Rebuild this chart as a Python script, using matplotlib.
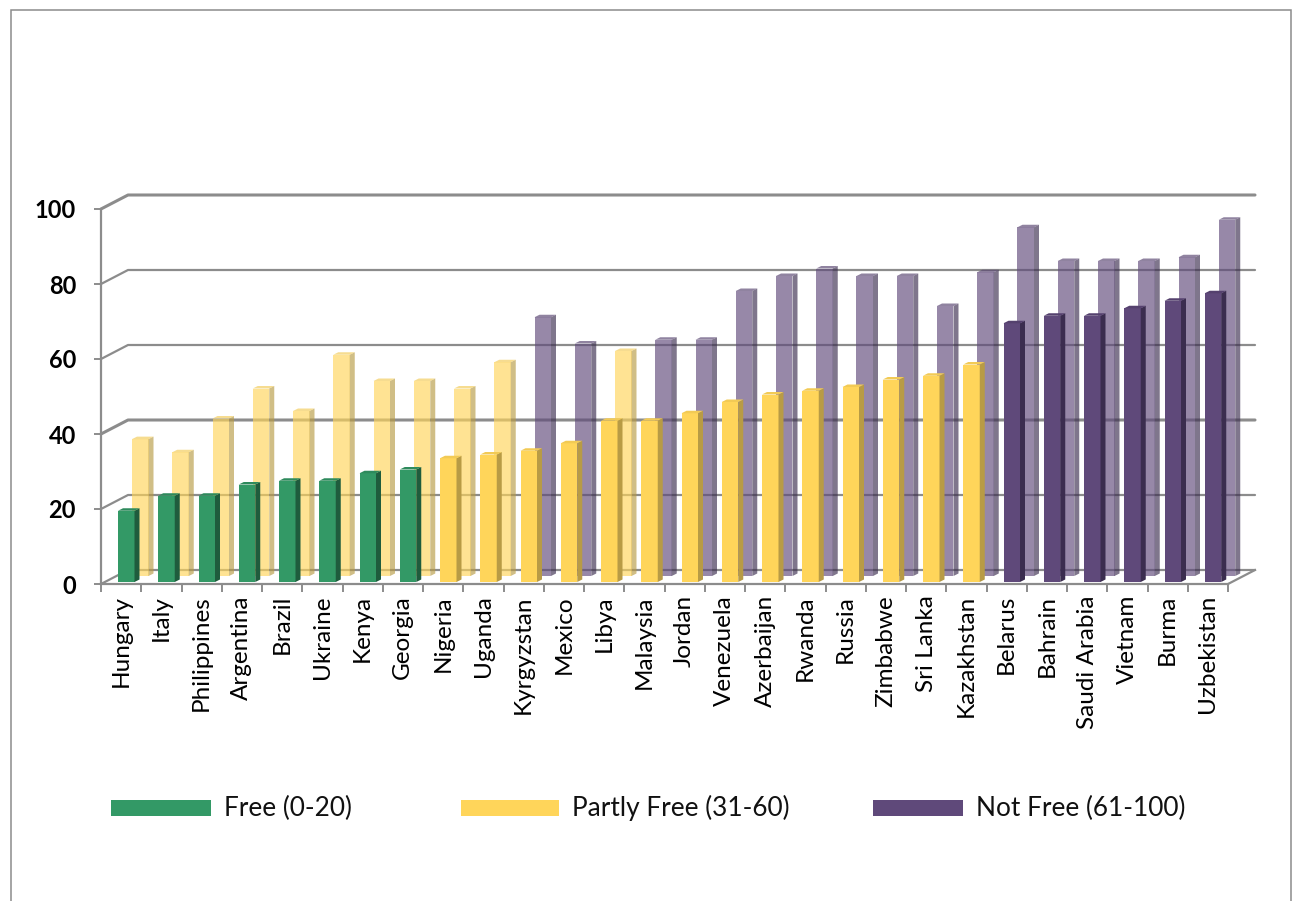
import matplotlib
matplotlib.use('Agg')
import matplotlib.pyplot as plt
from matplotlib.patches import Rectangle

plt.rcParams['font.family'] = ['Lato', 'DejaVu Sans']

paises = ['Hungary', 'Italy', 'Philippines', 'Argentina', 'Brazil', 'Ukraine', 'Kenya',
          'Georgia', 'Nigeria', 'Uganda', 'Kyrgyzstan', 'Mexico', 'Libya', 'Malaysia',
          'Jordan', 'Venezuela', 'Azerbaijan', 'Rwanda', 'Russia', 'Zimbabwe', 'Sri Lanka',
          'Kazakhstan', 'Belarus', 'Bahrain', 'Saudi Arabia', 'Vietnam', 'Burma', 'Uzbekistan']

valores_frente = [19, 23, 23, 26, 27, 27, 29, 30, 33, 34, 35, 37, 43, 43,
                  45, 48, 50, 51, 52, 54, 55, 58, 69, 71, 71, 73, 75, 77]
status_frente = ['F'] * 8 + ['P'] * 14 + ['N'] * 6

valores_fundo = [36.5, 33, 42, 50, 44, 59, 52, 52, 50, 57, 69, 62, 60, 63,
                 63, 76, 80, 82, 80, 80, 72, 81, 93, 84, 84, 84, 85, 95]
status_fundo = ['P'] * 10 + ['N', 'N', 'P'] + ['N'] * 15

y_ticks = [0, 20, 40, 60, 80, 100]
legenda = [('Free (0-20)', 'F'), ('Partly Free (31-60)', 'P'), ('Not Free (61-100)', 'N')]

# face, side, top
cores = {'F': ('#339966', '#1f5c3d', '#2e8a5c'),
         'P': ('#ffd55a', '#b89b45', '#f2ca55'),
         'N': ('#5f497a', '#3b2d4f', '#55416e')}

W, H = 1295, 901
cinza = '#8c8c8c'

fig = plt.figure(figsize=(W / 100, H / 100), dpi=100)
ax = fig.add_axes([101 / W, (H - 584) / H, 1127 / W, 375 / H])
ax.set_xlim(0, 28)
ax.set_ylim(0, 100)

px_x = 40.25
px_y = 3.75
prof_x = 27 / px_x
prof_y = 14 / px_y


def desenha_barra(x, valor, base, cor, alpha, z):
    larg = 16.5 / px_x
    dx = 5 / px_x
    dy = 2.5 / px_y
    face, lado, topo = cores[cor]
    ax.bar(x, valor, larg, bottom=base, align='edge', color=face, alpha=alpha, zorder=z, clip_on=False, linewidth=0)
    ax.fill([x + larg, x + larg + dx, x + larg + dx, x + larg],
            [base, base + dy, base + valor + dy, base + valor],
            color=lado, alpha=alpha, zorder=z, clip_on=False, linewidth=0)
    ax.fill([x, x + dx, x + larg + dx, x + larg],
            [base + valor, base + valor + dy, base + valor + dy, base + valor],
            color=topo, alpha=alpha, zorder=z, clip_on=False, linewidth=0)


# back wall lines
for v in y_ticks:
    lw = 2.2 if v in (40, 100) else 1.6
    ax.plot([0, prof_x, 28 + prof_x], [v, v + prof_y, v + prof_y], color=cinza, lw=lw,
            zorder=1, clip_on=False, solid_capstyle='round')
ax.plot([28, 28 + prof_x], [0, prof_y], color=cinza, lw=1.6, zorder=1, clip_on=False)

for i, v in enumerate(valores_fundo):
    desenha_barra(i + 31 / px_x, v, 8 / px_y, status_fundo[i], 0.65, 2)

for i, v in enumerate(valores_frente):
    desenha_barra(i + 17 / px_x, v, 2 / px_y, status_frente[i], 1, 3)

for lado in ['top', 'right']:
    ax.spines[lado].set_visible(False)
for lado in ['left', 'bottom']:
    ax.spines[lado].set_color(cinza)
    ax.spines[lado].set_linewidth(1.6)
    ax.spines[lado].set_zorder(1.5)

ax.set_yticks(y_ticks)
ax.set_yticklabels([str(v) for v in y_ticks], fontsize=17, fontweight='bold')
ax.tick_params(axis='y', length=5, width=1.4, color=cinza, pad=13)

ax.set_xticks(range(29))
ax.set_xticklabels([])
ax.set_xticks([i + 0.5 for i in range(28)], minor=True)
ax.set_xticklabels(paises, minor=True, rotation=90, fontsize=17.5, ha='center', va='top')
ax.tick_params(axis='x', which='major', length=6, width=1.4, color=cinza)
ax.tick_params(axis='x', which='minor', length=0, pad=8)

# legend spaced like the original
for (texto, cor), x0, x1 in zip(legenda, [111, 461, 873], [211, 559, 963]):
    fig.add_artist(Rectangle((x0 / W, (H - 816) / H), (x1 - x0) / W, 16 / H, transform=fig.transFigure,
                             facecolor=cores[cor][0], edgecolor='none'))
    fig.text((x1 + 13) / W, (H - 808) / H, texto, fontsize=18.9, va='center', ha='left', color='#111111')

# chart frame, runs off the bottom of the image
fig.add_artist(Rectangle((11 / W, -0.02), (1291 - 11) / W, (H - 10) / H + 0.02, transform=fig.transFigure,
                         facecolor='none', edgecolor=cinza, linewidth=1.1, zorder=0))

fig.savefig('out.png', dpi=100)
